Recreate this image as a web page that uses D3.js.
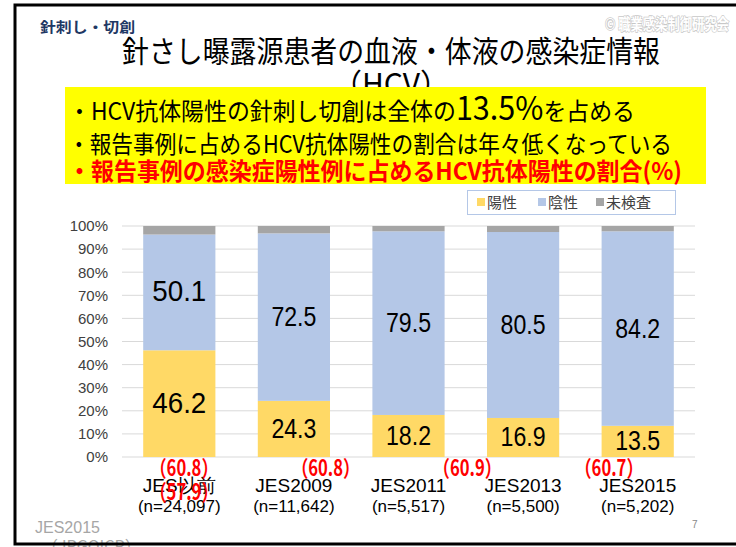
<!DOCTYPE html>
<html>
<head>
<meta charset="utf-8">
<script src="https://cdn.jsdelivr.net/npm/d3@7"></script>
<style>
  html, body { margin: 0; padding: 0; background: #fff; }
  svg { display: block; }
  .jp { font-family: "Noto Sans CJK JP", "Noto Sans", sans-serif; }
  .num { font-family: "Liberation Sans Narrow", "Liberation Sans", Arial, sans-serif; }
</style>
</head>
<body>
<div id="chart"></div>
<script>
// データ
const categories = ["JES以前", "JES2009", "JES2011", "JES2013", "JES2015"];
const sampleSizes = ["(n=24,097)", "(n=11,642)", "(n=5,517)", "(n=5,500)", "(n=5,202)"];
const seriesNames = ["陽性", "陰性", "未検査"];
const positive = [46.2, 24.3, 18.2, 16.9, 13.5];
const negative = [50.1, 72.5, 79.5, 80.5, 84.2];
const untested = [3.7, 3.2, 2.3, 2.6, 2.3];
const yTicks = [0, 10, 20, 30, 40, 50, 60, 70, 80, 90, 100];
// 感染症陽性例に占めるHCV抗体陽性の割合（赤字）
const redNotes = ["（60.8）", "（60.8）", "（60.9）", "（60.7）"];
const redNoteExtra = "（57.9）";

const colors = ["#ffd966", "#b4c7e7", "#a5a5a5"];

var width = 736, height = 547;

var svg = d3.select("#chart").append("svg")
    .attr("width", width)
    .attr("height", height);

// 左上の見出し
svg.append("text").attr("class", "jp")
    .attr("x", 40).attr("y", 32)
    .attr("font-size", 14).attr("font-weight", "bold")
    .attr("fill", "#1f3864")
    .attr("textLength", 95).attr("lengthAdjust", "spacingAndGlyphs")
    .text("針刺し・切創");

// 透かし
svg.append("text").attr("class", "jp")
    .attr("x", 729).attr("y", 30)
    .attr("text-anchor", "end")
    .attr("font-size", 16).attr("font-weight", "bold")
    .attr("fill", "#fff").attr("stroke", "#c8c8c8").attr("stroke-width", 1.4)
    .attr("paint-order", "stroke")
    .attr("textLength", 124).attr("lengthAdjust", "spacingAndGlyphs")
    .text("© 職業感染制御研究会");

// タイトル
svg.append("text").attr("class", "jp")
    .attr("x", 391).attr("y", 62)
    .attr("text-anchor", "middle")
    .attr("font-size", 30)
    .attr("textLength", 538).attr("lengthAdjust", "spacingAndGlyphs")
    .text("針さし曝露源患者の血液・体液の感染症情報");
svg.append("text").attr("class", "jp")
    .attr("x", 391).attr("y", 95)
    .attr("text-anchor", "middle")
    .attr("font-size", 30)
    .text("（HCV）");

// 黄色いボックス
svg.append("rect")
    .attr("x", 65).attr("y", 87)
    .attr("width", 641).attr("height", 97)
    .attr("fill", "#ffff00");

var l1 = svg.append("text").attr("class", "jp")
    .attr("x", 68).attr("y", 120)
    .attr("font-size", 24);
l1.append("tspan").text("・HCV抗体陽性の針刺し切創は全体の");
l1.append("tspan").attr("font-size", 32).text("13.5%");
l1.append("tspan").text("を占める");
l1.attr("textLength", 567).attr("lengthAdjust", "spacingAndGlyphs");

svg.append("text").attr("class", "jp")
    .attr("x", 68).attr("y", 153)
    .attr("font-size", 24)
    .attr("textLength", 604).attr("lengthAdjust", "spacingAndGlyphs")
    .text("・報告事例に占めるHCV抗体陽性の割合は年々低くなっている");

svg.append("text").attr("class", "jp")
    .attr("x", 68).attr("y", 180)
    .attr("font-size", 24).attr("font-weight", "bold")
    .attr("fill", "#ff0000")
    .attr("textLength", 614).attr("lengthAdjust", "spacingAndGlyphs")
    .text("・報告事例の感染症陽性例に占めるHCV抗体陽性の割合(%)");

// 凡例
var legend = svg.append("g");
legend.append("rect")
    .attr("x", 467.5).attr("y", 190.5)
    .attr("width", 208).attr("height", 24)
    .attr("fill", "#fff").attr("stroke", "#b4c7e7");
var legendX = [477, 538, 596];
seriesNames.forEach(function(name, i) {
    legend.append("rect")
        .attr("x", legendX[i]).attr("y", 198)
        .attr("width", 8).attr("height", 8)
        .attr("fill", colors[i]);
    legend.append("text").attr("class", "jp")
        .attr("x", legendX[i] + 10).attr("y", 208)
        .attr("font-size", 15)
        .attr("fill", "#404040")
        .text(name);
});

// スケール
var x = d3.scaleBand()
    .domain(categories)
    .range([122, 695])
    .paddingInner(0.37)
    .paddingOuter(0.185);

var y = d3.scaleLinear()
    .domain([0, 100])
    .range([457, 226]);

// グリッド線
svg.append("g")
    .selectAll("line")
    .data(yTicks)
    .enter()
    .append("line")
        .attr("x1", 122).attr("x2", 695)
        .attr("y1", function(d) { return y(d); })
        .attr("y2", function(d) { return y(d); })
        .attr("stroke", "#d9d9d9")
        .attr("stroke-width", 1);

// Y軸
var yAxis = svg.append("g")
    .attr("transform", "translate(112,0)")
    .call(d3.axisLeft(y).tickValues(yTicks).tickSize(0).tickPadding(4)
        .tickFormat(function(d) { return d + "%"; }));
yAxis.select(".domain").remove();
yAxis.selectAll("text")
    .attr("font-family", "Liberation Sans, Arial, sans-serif")
    .attr("font-size", 15)
    .attr("fill", "#404040");

// 積み上げデータ
var table = categories.map(function(c, i) {
    return { cat: c, "陽性": positive[i], "陰性": negative[i], "未検査": untested[i] };
});
var stack = d3.stack().keys(seriesNames)(table);

var layers = svg.selectAll(".layer")
    .data(stack)
    .enter()
    .append("g")
        .attr("class", "layer")
        .attr("fill", function(d, i) { return colors[i]; });

layers.selectAll("rect")
    .data(function(d) { return d; })
    .enter()
    .append("rect")
        .attr("x", function(d) { return x(d.data.cat); })
        .attr("y", function(d) { return y(d[1]); })
        .attr("width", x.bandwidth())
        .attr("height", function(d) { return y(d[0]) - y(d[1]); });

// 値ラベル（陽性・陰性）
stack.slice(0, 2).forEach(function(layer) {
    svg.append("g").selectAll("text")
        .data(layer)
        .enter()
        .append("text")
            .attr("class", "num")
            .attr("x", function(d) { return x(d.data.cat) + x.bandwidth() / 2; })
            .attr("y", function(d) { return y((d[0] + d[1]) / 2) + 9; })
            .attr("text-anchor", "middle")
            .attr("font-size", function(d, i) { return i === 0 ? 29 : 27; })
            .attr("textLength", function(d, i) { return i === 0 ? 54 : 45; })
            .attr("lengthAdjust", "spacingAndGlyphs")
            .attr("fill", "#000")
            .text(function(d) { return (d[1] - d[0]).toFixed(1); });
});

// X軸ラベル
var xl = svg.append("g").selectAll("text")
    .data(categories)
    .enter()
    .append("text")
        .attr("class", "num")
        .attr("text-anchor", "middle")
        .attr("font-size", 19)
        .attr("fill", "#000");
xl.append("tspan")
    .attr("x", function(d) { return x(d) + x.bandwidth() / 2; })
    .attr("y", 492)
    .text(function(d) { return d; });
xl.append("tspan")
    .attr("x", function(d) { return x(d) + x.bandwidth() / 2; })
    .attr("y", 512)
    .attr("font-size", 17)
    .text(function(d, i) { return sampleSizes[i]; });

// 赤字の注記
var noteX = d3.scalePoint()
    .domain(d3.range(redNotes.length))
    .range([184, 609]);
svg.append("g").selectAll("text")
    .data(redNotes)
    .enter()
    .append("text")
        .attr("class", "jp")
        .attr("x", function(d, i) { return noteX(i); })
        .attr("y", 476)
        .attr("text-anchor", "middle")
        .attr("font-size", 22).attr("font-weight", "bold")
        .attr("fill", "#ff0000")
        .attr("textLength", 68).attr("lengthAdjust", "spacingAndGlyphs")
        .text(function(d) { return d; });
svg.append("text").attr("class", "jp")
    .attr("x", noteX(0)).attr("y", 500)
    .attr("text-anchor", "middle")
    .attr("font-size", 22).attr("font-weight", "bold")
    .attr("fill", "#ff0000")
    .attr("textLength", 68).attr("lengthAdjust", "spacingAndGlyphs")
    .text(redNoteExtra);

// 出典とページ番号
svg.append("text")
    .attr("x", 35).attr("y", 533)
    .attr("font-family", "Liberation Sans, Arial, sans-serif")
    .attr("font-size", 16)
    .attr("fill", "#a6a6a6")
    .text("JES2015");
svg.append("text").attr("class", "jp")
    .attr("x", 42).attr("y", 552)
    .attr("font-size", 16)
    .attr("fill", "#a6a6a6")
    .text("（JRGOICP）");
svg.append("text")
    .attr("x", 692).attr("y", 528)
    .attr("font-family", "Liberation Sans, Arial, sans-serif")
    .attr("font-size", 10)
    .attr("fill", "#888")
    .text("7");

// スライド枠
svg.append("path")
    .attr("d", "M736,5 H15 V544 H736")
    .attr("fill", "none")
    .attr("stroke", "#000")
    .attr("stroke-width", 3);
</script>
</body>
</html>
